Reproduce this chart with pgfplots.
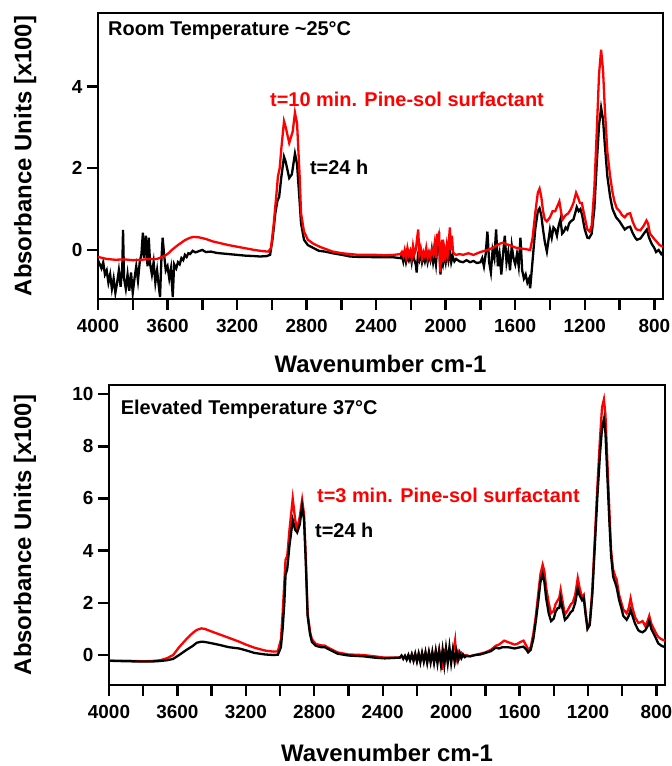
\documentclass[border=0pt]{standalone}
\usepackage{pgfplots}
\pgfplotsset{compat=1.18}
\usepackage{fontspec}
\setmainfont{Liberation Sans}
\newcommand{\fs}[1]{\fontsize{#1}{#1}\selectfont\bfseries}
\pgfplotsset{
  irstyle/.style={
    scale only axis,
    x dir=reverse,
    xmin=750, xmax=4000,
    xtick={800,1200,1600,2000,2400,2800,3200,3600,4000},
    minor xtick={1000,1400,1800,2200,2600,3000,3400,3800},
    tick align=outside,
    tick pos=left,
    major tick length=11bp,
    minor tick length=11bp,
    tick style={line width=2.4bp, black},
    minor tick style={line width=2.4bp, black},
    major tick style={line width=2.4bp, black},
    axis line style={line width=2.4bp},
    /pgf/number format/1000 sep={},
    /pgf/number format/assume math mode=true,
    tick label style={font=\fs{19}},
    xticklabel style={yshift=-6bp},
    yticklabel style={xshift=-1bp},
    label style={font=\fs{24}},
    clip=true,
  }
}
\begin{document}
\begin{tikzpicture}
\useasboundingbox (0,0) rectangle (672bp,766bp);
% ---------------- top panel ----------------
\begin{axis}[irstyle,
  at={(98bp,467bp)}, anchor=south west,
  width=565bp, height=286bp,
  ymin=-1.2, ymax=5.8,
  ytick={0,2,4},
  xlabel={Wavenumber cm-1},
  ylabel={Absorbance Units [x100]},
  xlabel style={at={(axis description cs:0.5,-0.227)}, anchor=center},
  ylabel style={at={(axis description cs:-0.129,0.5)}, anchor=center},
]
\addplot[black, line width=2.3bp] coordinates {
(4000,-0.25)(3990,-0.35)(3980,-0.45)(3970,-0.3)(3960,-0.6)(3950,-0.5)(3940,-0.8)(3930,-0.6)(3920,-0.95)(3910,-0.7)
(3900,-1.05)(3890,-0.8)(3880,-0.5)(3870,-0.9)(3860,-0.4)(3856,0.49)(3850,-0.7)(3840,-0.95)(3830,-0.6)(3820,-1.0)
(3810,-0.55)(3800,-1.05)(3790,-0.7)(3780,-0.4)(3770,-0.75)(3760,-0.3)(3750,-0.1)(3742,0.42)(3735,-0.2)(3725,0.35)
(3715,-0.4)(3708,0.3)(3700,-0.35)(3690,-0.6)(3680,-0.3)(3670,-0.8)(3660,-0.5)(3650,-0.9)(3643,-1.15)(3636,-0.3)
(3628,0.3)(3620,-0.1)(3610,-0.5)(3600,-0.4)(3590,-0.7)(3580,-0.45)(3570,-1.15)(3562,-0.35)(3550,-0.45)(3540,-0.3)
(3530,-0.35)(3520,-0.2)(3510,-0.25)(3500,-0.12)(3490,-0.17)(3480,-0.08)(3470,-0.1)(3455,-0.02)(3440,-0.06)(3420,-0.03)
(3400,0.0)(3380,-0.05)(3350,-0.04)(3320,-0.07)(3300,-0.08)(3250,-0.1)(3200,-0.12)(3150,-0.14)(3100,-0.15)(3068,-0.16)
(3030,-0.15)(3010,-0.12)(2995,0.3)(2980,0.9)(2968,1.2)(2958,1.3)(2945,1.8)(2930,2.28)(2920,2.15)(2900,1.76)
(2885,1.85)(2867,2.36)(2855,2.1)(2842,1.3)(2832,0.65)(2815,0.25)(2793,0.12)(2762,0.05)(2730,-0.02)(2694,-0.04)
(2650,-0.08)(2596,-0.12)(2550,-0.16)(2500,-0.17)(2450,-0.17)(2400,-0.18)(2350,-0.18)(2300,-0.18)
(2260,-0.2)(2252,-0.12)(2244,-0.28)(2236,-0.1)(2228,-0.3)(2220,-0.15)(2212,-0.25)(2204,-0.1)(2196,-0.3)(2188,-0.05)
(2180,-0.25)(2172,-0.35)(2167,-0.55)(2160,-0.15)(2152,-0.25)(2144,-0.05)(2136,-0.3)(2128,-0.15)(2120,-0.28)(2112,-0.1)
(2104,-0.3)(2096,-0.12)(2088,-0.25)(2080,0.0)(2072,-0.3)(2064,-0.1)(2056,-0.35)(2048,0.1)(2040,0.3)(2034,-0.2)
(2030,-0.6)(2024,-0.2)(2016,-0.35)(2008,-0.1)(2000,-0.3)(1992,-0.05)(1984,-0.25)(1976,0.0)(1968,-0.3)(1960,-0.15)
(1950,-0.28)(1940,-0.22)(1920,-0.28)(1900,-0.3)(1880,-0.25)(1860,-0.3)(1840,-0.27)(1820,-0.32)(1800,-0.3)(1790,-0.2)
(1780,-0.4)(1770,-0.1)(1760,0.45)(1750,-0.3)(1740,-0.55)(1730,0.0)(1720,-0.2)(1710,0.5)(1700,-0.4)(1690,-0.1)
(1680,-0.6)(1670,-0.1)(1660,0.35)(1650,-0.3)(1640,-0.05)(1630,-0.5)(1620,0.1)(1610,-0.2)(1600,-0.35)(1590,-0.1)
(1580,-0.4)(1570,0.3)(1560,-0.5)(1550,-0.7)(1540,-0.6)(1530,-0.8)(1520,-0.7)(1514,-0.94)(1505,-0.5)(1495,0.0)
(1485,0.5)(1470,0.95)(1460,1.02)(1450,0.85)(1440,0.5)(1430,0.2)(1418,-0.04)(1410,0.2)(1400,0.5)(1390,0.3)
(1380,0.55)(1370,0.5)(1360,0.35)(1350,0.6)(1340,0.75)(1330,0.4)(1320,0.45)(1310,0.55)(1300,0.5)(1290,0.65)
(1280,0.7)(1265,0.75)(1255,0.9)(1246,1.05)(1235,0.95)(1225,1.0)(1215,0.85)(1200,0.5)(1185,0.3)(1175,0.29)
(1160,0.4)(1145,1.0)(1130,2.2)(1118,3.05)(1106,3.48)(1095,3.2)(1085,2.6)(1070,1.8)(1054,1.3)(1040,1.0)
(1020,0.8)(1000,0.7)(985,0.6)(970,0.5)(955,0.55)(939,0.57)(925,0.42)(910,0.3)(900,0.25)(880,0.28)
(860,0.4)(843,0.5)(830,0.3)(815,0.15)(800,0.05)(790,-0.05)(775,0.0)(760,-0.1)(750,-0.05)
};
\addplot[red, line width=2.3bp] coordinates {
(4000,-0.17)(3950,-0.22)(3900,-0.24)(3850,-0.23)(3800,-0.25)(3750,-0.24)(3700,-0.22)(3660,-0.22)(3620,-0.15)(3600,-0.1)
(3570,0.02)(3540,0.12)(3500,0.24)(3470,0.30)(3450,0.32)(3420,0.31)(3380,0.27)(3340,0.21)(3300,0.17)(3250,0.12)
(3200,0.08)(3150,0.04)(3100,0.0)(3050,-0.03)(3020,-0.04)(3005,0.05)(2990,0.6)(2975,1.3)(2965,1.8)(2955,2.0)
(2945,2.5)(2930,3.15)(2920,3.0)(2900,2.62)(2880,2.9)(2867,3.36)(2855,3.1)(2840,1.8)(2832,0.9)(2815,0.45)
(2793,0.25)(2760,0.15)(2720,0.07)(2694,0.03)(2650,-0.04)(2596,-0.08)(2550,-0.1)(2500,-0.12)(2450,-0.12)(2400,-0.12)
(2350,-0.13)(2300,-0.12)
(2260,-0.1)(2252,-0.05)(2244,-0.15)(2236,0.0)(2228,-0.18)(2220,0.05)(2212,-0.12)(2204,-0.02)(2196,-0.2)(2188,0.1)
(2180,-0.1)(2172,0.0)(2164,0.3)(2158,0.5)(2152,-0.1)(2144,0.05)(2136,-0.2)(2128,-0.05)(2120,-0.15)(2112,0.05)
(2104,-0.2)(2096,-0.05)(2088,-0.18)(2080,0.0)(2072,-0.1)(2064,0.15)(2056,-0.2)(2050,0.4)(2044,0.1)(2038,0.45)
(2032,-0.55)(2026,-0.1)(2020,0.25)(2014,-0.3)(2008,0.05)(2000,-0.15)(1994,0.1)(1988,-0.1)(1982,0.2)(1976,0.55)
(1970,0.0)(1964,0.35)(1958,-0.05)(1950,-0.1)(1940,-0.12)
(1920,-0.1)(1900,-0.12)(1870,-0.08)(1840,-0.12)(1800,-0.05)
(1760,0.0)(1730,0.05)(1704,0.12)(1690,0.15)(1670,0.18)(1650,0.14)(1620,0.1)(1600,0.06)(1572,0.04)(1540,0.02)
(1514,0.0)(1500,0.3)(1485,0.9)(1470,1.4)(1460,1.5)(1450,1.3)(1440,0.95)(1430,0.75)(1418,0.7)(1400,0.8)
(1385,0.95)(1370,0.95)(1355,1.1)(1346,1.19)(1335,0.9)(1327,0.75)(1310,0.85)(1294,0.9)(1280,1.0)(1265,1.15)
(1250,1.4)(1240,1.3)(1228,1.15)(1217,1.15)(1200,0.8)(1185,0.5)(1172,0.45)(1160,0.6)(1145,1.5)(1130,3.0)
(1118,4.3)(1106,4.9)(1095,4.4)(1085,3.5)(1070,2.4)(1054,1.8)(1040,1.4)(1030,1.2)(1016,1.02)(1000,0.95)
(985,0.85)(970,0.8)(955,0.88)(939,0.9)(925,0.7)(910,0.55)(900,0.5)(880,0.48)(860,0.6)(845,0.72)
(836,0.65)(825,0.4)(806,0.3)(790,0.22)(770,0.12)(750,0.08)
};
\node[anchor=west, inner sep=0pt, font=\fs{20}] at (rel axis cs:0.0177,0.937) {Room Temperature \textasciitilde25°C};
\node[anchor=west, inner sep=0pt, font=\fs{20}, text=red] at (rel axis cs:0.3044,0.699) {t=10 min. Pine-sol surfactant};
\node[anchor=west, inner sep=0pt, font=\fs{20}] at (rel axis cs:0.375,0.4615) {t=24 h};
\end{axis}
% ---------------- bottom panel ----------------
\begin{axis}[irstyle,
  at={(109bp,81bp)}, anchor=south west,
  width=556bp, height=300bp,
  ymin=-1.15, ymax=10.35,
  ytick={0,2,4,6,8,10},
  xlabel={Wavenumber cm-1},
  ylabel={Absorbance Units [x100]},
  xlabel style={at={(axis description cs:0.5,-0.227)}, anchor=center},
  ylabel style={at={(axis description cs:-0.151,0.5)}, anchor=center},
]
\addplot[red, line width=2.3bp] coordinates {
(4000,-0.22)(3900,-0.22)(3800,-0.24)(3750,-0.23)(3700,-0.2)(3660,-0.12)(3625,0.0)(3590,0.3)(3546,0.62)(3510,0.85)
(3487,0.96)(3460,1.02)(3440,1.0)(3400,0.9)(3350,0.78)(3300,0.66)(3239,0.51)(3200,0.4)(3150,0.28)(3088,0.17)
(3040,0.13)(3013,0.14)(2995,0.6)(2985,1.6)(2975,2.8)(2968,3.65)(2958,3.8)(2945,4.8)(2926,6.0)(2912,5.2)
(2900,4.8)(2885,5.3)(2871,5.95)(2860,5.4)(2850,3.8)(2839,1.6)(2825,0.9)(2814,0.6)(2790,0.42)(2760,0.37)
(2739,0.36)(2710,0.25)(2664,0.1)(2600,0.02)(2515,0.0)(2450,-0.05)(2389,-0.1)(2300,-0.1)
(2290,-0.05)(2280,-0.12)(2270,-0.05)(2260,-0.15)(2250,-0.02)(2240,-0.18)(2230,0.02)(2220,-0.2)(2210,0.02)(2200,-0.22)
(2190,0.05)(2180,-0.2)(2170,0.05)(2160,-0.22)(2150,0.08)(2140,-0.25)(2130,0.1)(2120,-0.2)(2110,0.05)(2100,-0.25)
(2090,0.15)(2080,-0.2)(2070,0.2)(2060,-0.25)(2053,-0.57)(2046,0.25)(2038,-0.2)(2030,0.2)(2020,-0.25)(2010,0.15)
(2000,-0.2)(1992,0.15)(1984,0.25)(1977,0.55)(1970,-0.15)(1960,0.12)(1950,-0.1)(1940,0.08)(1925,-0.05)(1914,0.0)
(1890,-0.05)(1860,0.0)(1830,0.05)(1800,0.1)(1767,0.2)(1740,0.35)(1720,0.4)(1700,0.5)(1690,0.55)(1670,0.5)
(1650,0.45)(1630,0.4)(1615,0.42)(1595,0.5)(1577,0.55)(1560,0.35)(1550,0.2)(1535,0.3)(1520,0.8)(1505,1.5)
(1490,2.4)(1478,3.1)(1465,3.46)(1455,3.2)(1445,2.6)(1430,2.0)(1416,1.6)(1400,1.7)(1390,1.95)(1377,2.1)
(1368,2.2)(1360,2.5)(1350,2.1)(1335,1.55)(1320,1.7)(1300,1.95)(1290,2.0)(1275,2.3)(1260,2.95)(1250,2.6)
(1235,2.2)(1225,2.3)(1215,1.7)(1203,1.03)(1190,1.2)(1175,2.5)(1160,4.5)(1145,6.5)(1130,8.3)(1118,9.5)
(1107,9.8)(1098,9.2)(1088,7.6)(1075,5.5)(1065,4.0)(1053,3.27)(1040,3.0)(1033,2.9)(1018,2.3)(1005,2.0)
(994,1.75)(974,1.6)(962,1.8)(951,2.17)(940,1.8)(925,1.45)(906,1.23)(895,1.25)(881,1.3)(865,1.1)
(852,1.3)(842,1.5)(830,1.2)(815,1.0)(800,0.8)(790,0.7)(770,0.6)(750,0.55)
};
\addplot[black, line width=2.3bp] coordinates {
(4000,-0.22)(3900,-0.24)(3800,-0.25)(3750,-0.25)(3700,-0.23)(3660,-0.2)(3625,-0.15)(3590,0.0)(3546,0.2)(3510,0.35)
(3487,0.47)(3460,0.51)(3440,0.5)(3400,0.45)(3350,0.38)(3300,0.3)(3239,0.25)(3200,0.18)(3150,0.08)(3088,0.02)
(3040,0.0)(3013,0.01)(2995,0.3)(2985,1.0)(2975,2.0)(2968,3.07)(2958,3.3)(2945,4.2)(2926,5.17)(2912,4.8)
(2900,4.7)(2885,5.0)(2871,5.7)(2860,5.2)(2850,3.6)(2839,1.5)(2825,0.8)(2814,0.5)(2790,0.35)(2760,0.3)
(2739,0.3)(2710,0.2)(2664,0.05)(2600,-0.02)(2515,-0.05)(2450,-0.1)(2389,-0.13)
(2300,-0.1)(2290,-0.02)(2280,-0.15)(2270,-0.03)(2260,-0.18)(2250,0.0)(2240,-0.2)(2230,0.02)(2220,-0.22)(2210,0.05)
(2200,-0.25)(2190,0.05)(2180,-0.28)(2170,0.08)(2160,-0.25)(2150,0.1)(2140,-0.3)(2130,0.1)(2120,-0.28)(2110,0.12)
(2100,-0.3)(2090,0.15)(2080,-0.32)(2070,0.15)(2060,-0.35)(2050,0.2)(2040,-0.38)(2030,0.25)(2020,-0.3)(2010,0.3)
(2000,-0.3)(1990,0.2)(1980,-0.25)(1970,0.15)(1960,-0.2)(1950,0.08)(1940,-0.12)(1930,0.02)(1920,-0.08)(1914,-0.05)
(1890,-0.05)(1860,0.0)(1830,0.02)
(1800,0.08)(1767,0.15)(1740,0.28)(1720,0.25)(1700,0.3)(1690,0.3)(1670,0.3)(1650,0.28)(1630,0.25)(1615,0.27)
(1595,0.3)(1577,0.32)(1560,0.2)(1550,0.1)(1535,0.2)(1520,0.6)(1505,1.3)(1490,2.1)(1478,2.8)(1465,3.1)
(1455,2.8)(1445,2.2)(1430,1.6)(1416,1.3)(1400,1.4)(1390,1.65)(1377,1.8)(1368,1.8)(1360,2.15)(1350,1.8)
(1335,1.35)(1320,1.45)(1300,1.65)(1290,1.7)(1275,2.0)(1260,2.55)(1250,2.3)(1235,2.1)(1225,2.2)(1215,1.6)
(1203,1.0)(1190,1.15)(1175,2.3)(1160,4.2)(1145,6.1)(1130,7.7)(1118,8.7)(1107,9.04)(1098,8.5)(1088,7.0)
(1075,5.1)(1065,3.8)(1053,3.0)(1040,2.75)(1033,2.6)(1018,2.1)(1005,1.8)(994,1.5)(974,1.35)(962,1.5)
(951,1.73)(940,1.5)(925,1.2)(906,0.95)(895,0.9)(881,0.87)(865,0.95)(852,1.1)(842,1.3)(830,1.0)
(815,0.8)(800,0.6)(790,0.45)(770,0.35)(750,0.3)
};
\node[anchor=west, inner sep=0pt, font=\fs{20}] at (rel axis cs:0.021,0.92) {Elevated Temperature 37°C};
\node[anchor=west, inner sep=0pt, font=\fs{20}, text=red] at (rel axis cs:0.374,0.633) {t=3 min. Pine-sol surfactant};
\node[anchor=west, inner sep=0pt, font=\fs{20}] at (rel axis cs:0.3705,0.517) {t=24 h};
\end{axis}
\end{tikzpicture}
\end{document}
